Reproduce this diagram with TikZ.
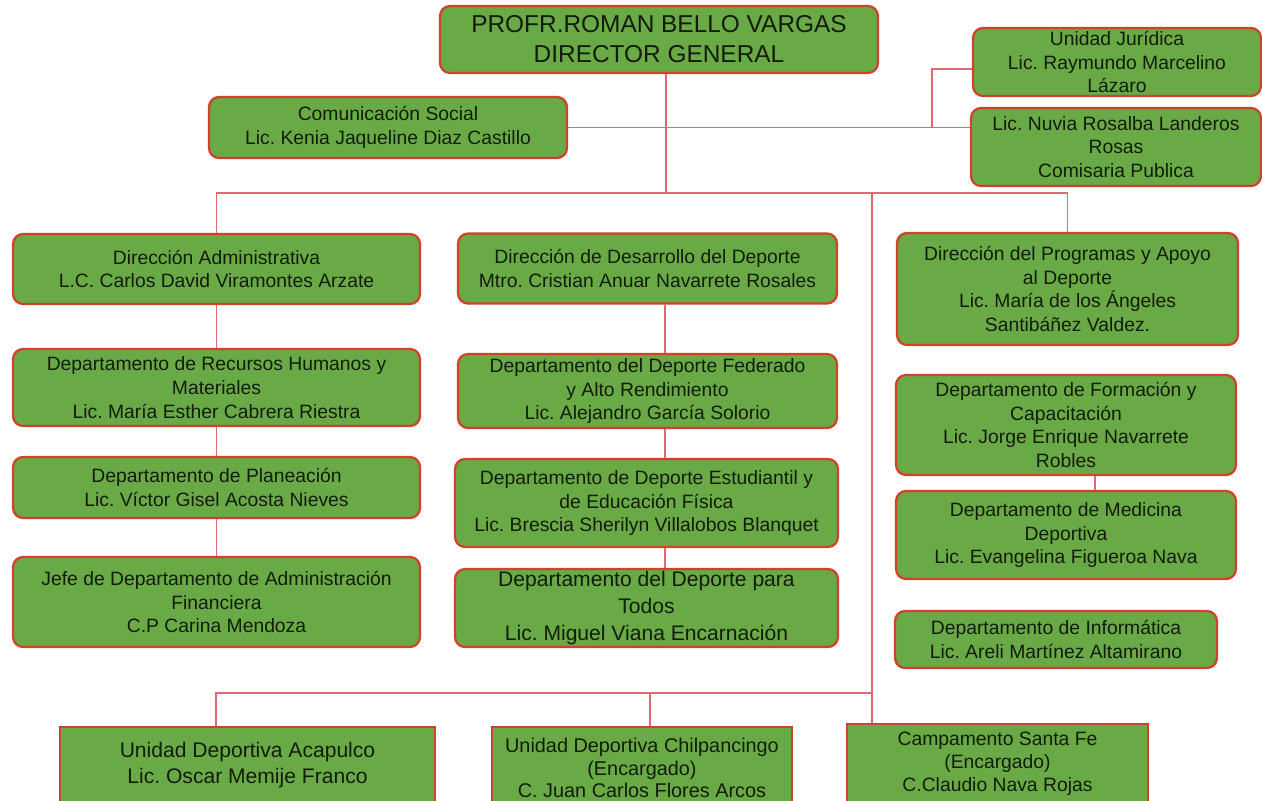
\documentclass[tikz,border=0pt]{standalone}
\usepackage{fontspec}
\setmainfont{Liberation Sans}
\frenchspacing

\definecolor{boxgreen}{RGB}{106,170,70}
\definecolor{boxred}{RGB}{208,66,44}
\definecolor{linkred}{RGB}{226,104,114}
\definecolor{ink}{RGB}{18,28,10}

\begin{document}
\begin{tikzpicture}[
  x=0.02cm, y=-0.02cm,
  post/.style={draw=boxred, fill=boxgreen, line width=1.3pt, rounded corners=0.2cm,
    align=center, inner sep=0pt, text=ink, font=\fontsize{11}{13.6}\selectfont},
  unit/.style={post, rounded corners=0pt},
  link/.style={draw=linkred, line width=0.65pt}
]
  % Page frame (pixels of the chart)
  \clip (0,0) rectangle (1262,801);
  \fill[white] (0,0) rectangle (1262,801);

  % Junction points of the connectors
  \coordinate (hub) at (666,193);
  \coordinate (trunk) at (872,193);
  \coordinate (jun) at (932,128);
  \coordinate (midx) at (665,300);
  \coordinate (rgtx) at (1095,480);
  \coordinate (lowL) at (216,693);
  \coordinate (lowM) at (650,693);

  % Head and staff
  \node[post, minimum width=8.76cm, minimum height=1.34cm,
        font=\fontsize{13.9}{17}\selectfont] (dg) at (659,39.5)
    {PROFR.ROMAN BELLO VARGAS\\DIRECTOR GENERAL};
  \node[post, minimum width=7.16cm, minimum height=1.22cm] (cs) at (388,127.5)
    {Comunicación Social\\Lic. Kenia Jaqueline Diaz Castillo};
  \node[post, minimum width=5.76cm, minimum height=1.36cm] (uj) at (1117,62)
    {Unidad Jurídica\\Lic. Raymundo Marcelino\\Lázaro};
  \node[post, minimum width=5.8cm, minimum height=1.56cm] (cp) at (1116,147)
    {Lic. Nuvia Rosalba Landeros\\Rosas\\Comisaria Publica};

  % Directions
  \node[post, minimum width=8.14cm, minimum height=1.4cm] (da) at (216.5,269)
    {Dirección Administrativa\\L.C. Carlos David Viramontes Arzate};
  \node[post, minimum width=7.58cm, minimum height=1.4cm] (dd) at (647.5,268.5)
    {Dirección de Desarrollo del Deporte\\Mtro. Cristian Anuar Navarrete Rosales};
  \node[post, minimum width=6.82cm, minimum height=2.24cm] (dp) at (1067.5,289)
    {Dirección del Programas y Apoyo\\al Deporte\\Lic. María de los Ángeles\\Santibáñez Valdez.};

  % Left column
  \node[post, minimum width=8.14cm, minimum height=1.54cm] (rh) at (216.5,387.5)
    {Departamento de Recursos Humanos y\\Materiales\\Lic. María Esther Cabrera Riestra};
  \node[post, minimum width=8.14cm, minimum height=1.22cm] (pl) at (216.5,487.5)
    {Departamento de Planeación\\Lic. Víctor Gisel Acosta Nieves};
  \node[post, minimum width=8.14cm, minimum height=1.8cm] (af) at (216.5,602)
    {Jefe de Departamento de Administración\\Financiera\\C.P Carina Mendoza};

  % Middle column
  \node[post, minimum width=7.58cm, minimum height=1.48cm] (df) at (647.5,391)
    {Departamento del Deporte Federado\\y Alto Rendimiento\\Lic. Alejandro García Solorio};
  \node[post, minimum width=7.66cm, minimum height=1.76cm] (de) at (646.5,503)
    {Departamento de Deporte Estudiantil y\\de Educación Física\\Lic. Brescia Sherilyn Villalobos Blanquet};
  \node[post, minimum width=7.66cm, minimum height=1.56cm,
        font=\fontsize{12}{15.3}\selectfont] (dt) at (646.5,608)
    {Departamento del Deporte para\\Todos\\Lic. Miguel Viana Encarnación};

  % Right column
  \node[post, minimum width=6.8cm, minimum height=2cm] (fc) at (1066,425)
    {Departamento de Formación y\\Capacitación\\Lic. Jorge Enrique Navarrete\\Robles};
  \node[post, minimum width=6.8cm, minimum height=1.76cm] (md) at (1066,535)
    {Departamento de Medicina\\Deportiva\\Lic. Evangelina Figueroa Nava};
  \node[post, minimum width=6.44cm, minimum height=1.14cm] (inf) at (1056,639.5)
    {Departamento de Informática\\Lic. Areli Martínez Altamirano};

  % Sport units (cut by the page edge)
  \node[unit, minimum width=7.5cm, minimum height=1.52cm,
        font=\fontsize{12}{14.7}\selectfont] (ua) at (247.5,765)
    {Unidad Deportiva Acapulco\\Lic. Oscar Memije Franco};
  \node[unit, minimum width=6cm, minimum height=1.64cm,
        font=\fontsize{11.3}{13}\selectfont] (uc) at (642,768)
    {Unidad Deportiva Chilpancingo\\(Encargado)\\C. Juan Carlos Flores Arcos};
  \node[unit, minimum width=6.02cm, minimum height=1.6cm,
        font=\fontsize{11}{13}\selectfont] (sf) at (997.5,764)
    {Campamento Santa Fe\\(Encargado)\\C.Claudio Nava Rojas};

  % Head to main bus
  \draw[link] (dg.south -| hub) -- (hub);
  \draw[link] (da.north) -- (da.north |- hub) -| (dp.north);
  \draw[link] (trunk) -- (trunk |- sf.north);

  % Staff line
  \draw[link] (cs.east) -- (cs.east -| cp.west);
  \draw[link] (jun) |- ([yshift=-0.14cm]uj.west);

  % Column links
  \draw[link] (da) -- (rh);
  \draw[link] (rh) -- (pl);
  \draw[link] (pl) -- (af);
  \draw[link] (dd.south -| midx) -- (df.north -| midx);
  \draw[link] (df.south -| midx) -- (de.north -| midx);
  \draw[link] (de.south -| midx) -- (dt.north -| midx);
  \draw[link] (fc.south -| rgtx) -- (md.north -| rgtx);

  % Lower bus to the sport units
  \draw[link] (lowL |- ua.north) -- (lowL) -- (lowL -| trunk);
  \draw[link] (lowM) -- (lowM |- uc.north);
\end{tikzpicture}
\end{document}
